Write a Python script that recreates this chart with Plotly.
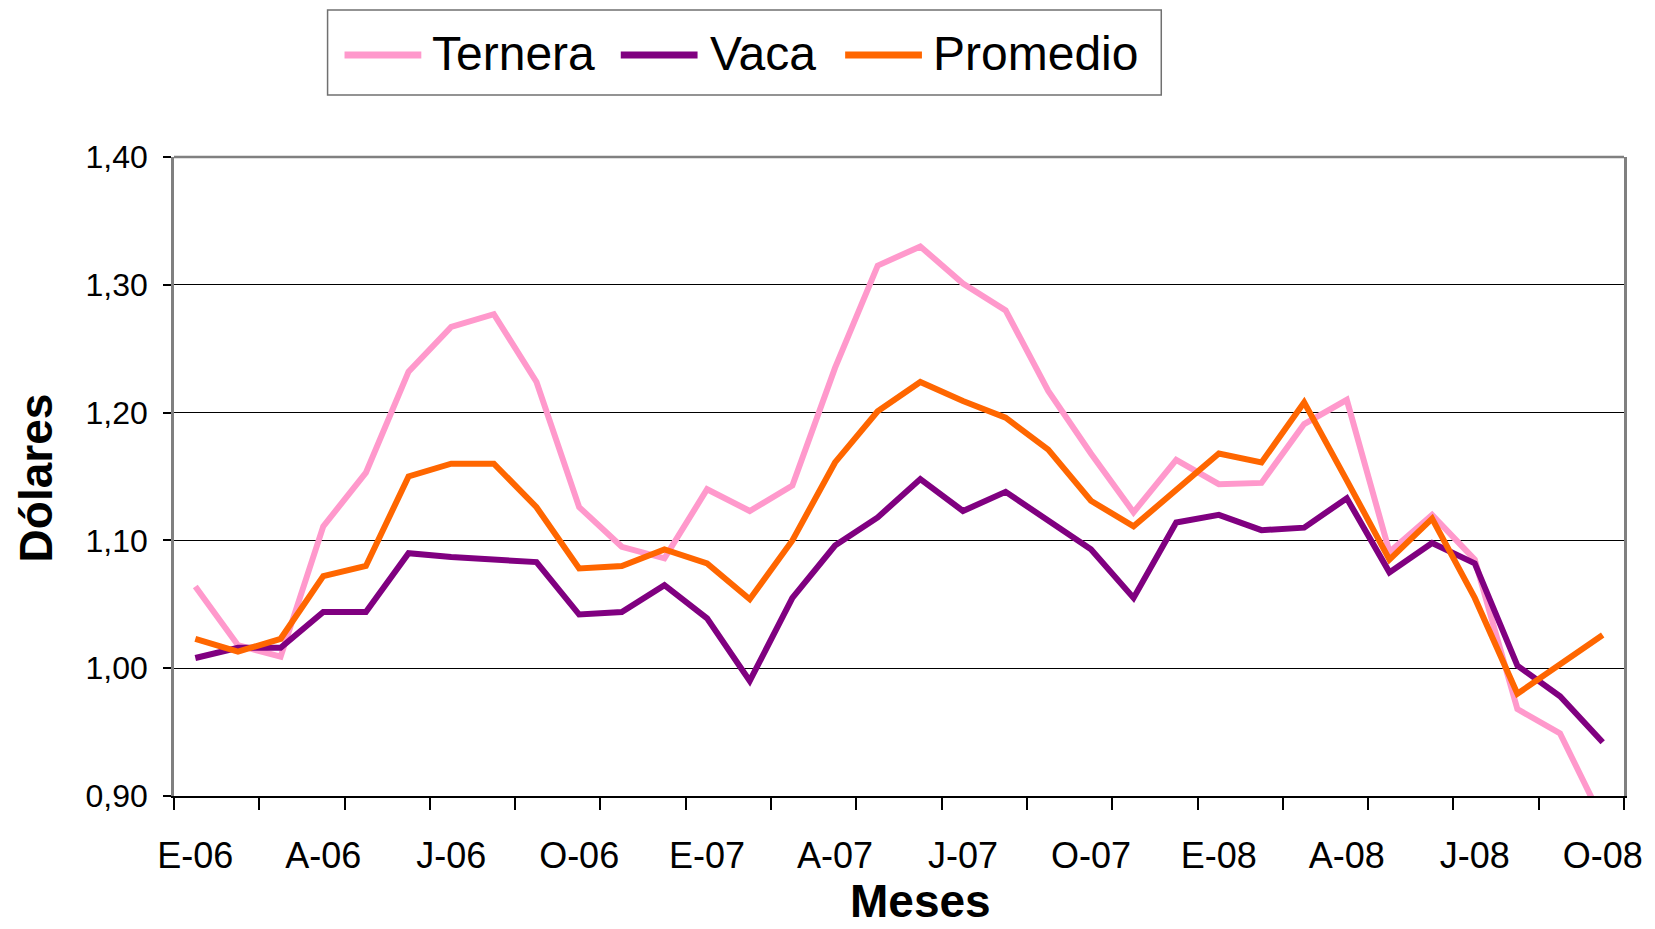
import plotly.graph_objects as go

# ---- data ----
months = ["E-06", "F-06", "M-06", "A-06", "M-06", "J-06", "J-06", "A-06", "S-06", "O-06", "N-06", "D-06",
          "E-07", "F-07", "M-07", "A-07", "M-07", "J-07", "J-07", "A-07", "S-07", "O-07", "N-07", "D-07",
          "E-08", "F-08", "M-08", "A-08", "M-08", "J-08", "J-08", "A-08", "S-08", "O-08"]

ternera = [1.064, 1.018, 1.009, 1.111, 1.153, 1.232, 1.267, 1.277, 1.224, 1.126, 1.095, 1.086,
           1.140, 1.123, 1.143, 1.235, 1.315, 1.330, 1.301, 1.280, 1.217, 1.168, 1.122, 1.163,
           1.144, 1.145, 1.191, 1.210, 1.091, 1.120, 1.085, 0.968, 0.949, 0.881]

vaca = [1.008, 1.016, 1.016, 1.044, 1.044, 1.090, 1.087, 1.085, 1.083, 1.042, 1.044, 1.065,
        1.039, 0.990, 1.055, 1.096, 1.118, 1.148, 1.123, 1.138, 1.115, 1.093, 1.055, 1.114,
        1.120, 1.108, 1.110, 1.133, 1.075, 1.098, 1.082, 1.002, 0.978, 0.942]

promedio = [1.023, 1.013, 1.023, 1.072, 1.080, 1.150, 1.160, 1.160, 1.126, 1.078, 1.080, 1.093,
            1.082, 1.054, 1.100, 1.161, 1.201, 1.224, 1.209, 1.196, 1.171, 1.131, 1.111, 1.140,
            1.168, 1.161, 1.208, 1.147, 1.085, 1.117, 1.055, 0.980, 1.003, 1.026]

series_names = ["Ternera", "Vaca", "Promedio"]
y_ticks = [0.90, 1.00, 1.10, 1.20, 1.30, 1.40]
y_ticktext = ["0,90", "1,00", "1,10", "1,20", "1,30", "1,40"]

# ---- styles / layout ----
colors = ["#FF99CC", "#800080", "#FF6600"]
FONT = "Liberation Sans, Arial, sans-serif"
W, H = 1655, 929
L, R, T, B = 174, 27, 157, 133
PW, PH = W - L - R, H - T - B

def px(x):
    return (x - L) / PW

def py(y):
    return (H - B - y) / PH

xidx = list(range(len(months)))
label_idx = xidx[::3]
boundaries = [i - 0.5 for i in range(0, len(months) + 1, 2)]

fig = go.Figure()
for name, vals, col in zip(series_names, [ternera, vaca, promedio], colors):
    fig.add_trace(go.Scatter(x=xidx, y=vals, mode="lines", name=name,
                             line=dict(color=col, width=6), showlegend=False))

shapes = [
    # plot area border (top grey)
    dict(type="line", xref="paper", yref="paper", x0=0, x1=1, y0=1, y1=1,
         line=dict(color="#808080", width=2.5)),
    # legend box
    dict(type="rect", xref="paper", yref="paper", x0=px(328), x1=px(1164), y0=py(95), y1=py(10),
         line=dict(color="#707070", width=1.5), fillcolor="white"),
]
annotations = []
leg_items = [(345, 422, 433), (622, 699, 711), (847, 924, 935)]
for (lx0, lx1, tx), name, col in zip(leg_items, series_names, colors):
    shapes.append(dict(type="line", xref="paper", yref="paper", x0=px(lx0), x1=px(lx1),
                       y0=py(55), y1=py(55), line=dict(color=col, width=7)))
    annotations.append(dict(text=name, xref="paper", yref="paper", x=px(tx - 2), y=py(53),
                            xanchor="left", yanchor="middle", showarrow=False,
                            font=dict(family=FONT, size=48, color="black")))

annotations.append(dict(text="<b>Meses</b>", xref="paper", yref="paper", x=px(923), y=py(901),
                        xanchor="center", yanchor="middle", showarrow=False, borderpad=0,
                        font=dict(family=FONT, size=46, color="black")))
annotations.append(dict(text="<b>Dólares</b>", xref="paper", yref="paper", x=px(36), y=py(478),
                        xanchor="center", yanchor="middle", showarrow=False, textangle=-90,
                        font=dict(family=FONT, size=46, color="black")))

fig.update_layout(
    width=W, height=H,
    margin=dict(l=L, r=R, t=T, b=B),
    paper_bgcolor="white", plot_bgcolor="white",
    showlegend=False,
    shapes=shapes, annotations=annotations,
    xaxis=dict(range=[-0.5, len(months) - 0.5], showline=True, linecolor="black", linewidth=2,
               tickmode="array", tickvals=label_idx, ticktext=[months[i] for i in label_idx],
               ticks="", ticklabelstandoff=27,
               tickfont=dict(family=FONT, size=36, color="black"),
               showgrid=False, zeroline=False,
               minor=dict(tickmode="array", tickvals=boundaries, ticks="outside", ticklen=12,
                          tickwidth=1.5, tickcolor="black", showgrid=False)),
    yaxis=dict(range=[0.9, 1.4], showline=True, linecolor="#808080", linewidth=2.5, mirror=True,
               tickmode="array", tickvals=y_ticks, ticktext=y_ticktext,
               ticks="outside", ticklen=8, tickcolor="black", tickwidth=1.5,
               ticklabelstandoff=9,
               tickfont=dict(family=FONT, size=32, color="black"),
               showgrid=True, gridcolor="black", gridwidth=1, zeroline=False),
)

fig.write_html("out.html", config={"displayModeBar": False},
               post_script="document.body.style.margin='0';document.body.style.overflow='hidden';")
